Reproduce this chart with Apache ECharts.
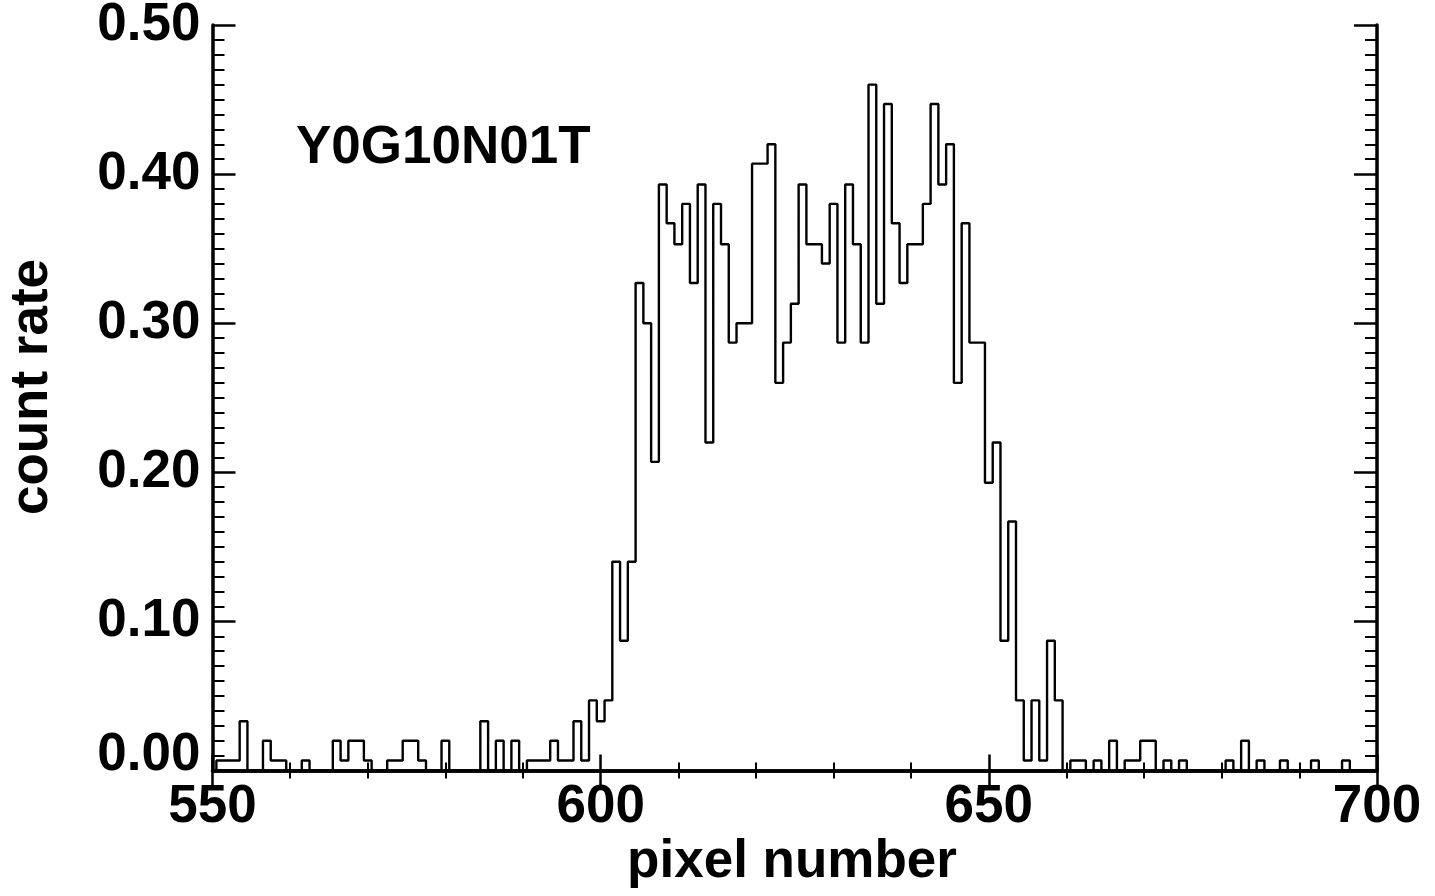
<!DOCTYPE html>
<html>
<head>
<meta charset="utf-8">
<title>Y0G10N01T count rate</title>
<script src="https://cdn.jsdelivr.net/npm/echarts@6/dist/echarts.min.js"></script>
<style>
  html, body { margin: 0; padding: 0; background: #ffffff; }
  #chart { width: 1435px; height: 896px; }
</style>
</head>
<body>
<div id="chart"></div>
<script>
// Count rate per detector pixel, one value per pixel starting at firstPixel.
const firstPixel = 550;

// pixels 550 - 601 (background and rising edge)
const rateLeftTail = [
  0, 0.0067, 0.0067, 0.0067, 0.033, 0, 0, 0.02, 0.0067, 0.0067,
  0, 0, 0.0067, 0, 0, 0, 0.02, 0.0067, 0.02, 0.02,
  0.0067, 0, 0, 0.0067, 0.0067, 0.02, 0.02, 0.0067, 0, 0,
  0.02, 0, 0, 0, 0, 0.033, 0, 0.02, 0, 0.02,
  0, 0.0067, 0.0067, 0.0067, 0.02, 0.0067, 0.0067, 0.033, 0.0067, 0.047,
  0.033, 0.047
];

// pixels 602 - 659 (illuminated region)
const rateCore = [
  0.14, 0.087, 0.14, 0.327, 0.30, 0.207, 0.393, 0.367, 0.353, 0.38,
  0.327, 0.393, 0.22, 0.38, 0.353, 0.287, 0.30, 0.30, 0.407, 0.407,
  0.42, 0.26, 0.287, 0.313, 0.393, 0.353, 0.353, 0.34, 0.38, 0.287,
  0.393, 0.353, 0.287, 0.46, 0.313, 0.447, 0.367, 0.327, 0.353, 0.353,
  0.38, 0.447, 0.393, 0.42, 0.26, 0.367, 0.287, 0.287, 0.193, 0.22,
  0.087, 0.167, 0.047, 0.0067, 0.047, 0.0067, 0.087, 0.047
];

// pixels 660 - 700 (background)
const rateRightTail = [
  0, 0.0067, 0.0067, 0, 0.0067, 0, 0.02, 0, 0.0067, 0.0067,
  0.02, 0.02, 0, 0.0067, 0, 0.0067, 0, 0, 0, 0,
  0, 0.0067, 0, 0.02, 0, 0.0067, 0, 0, 0.0067, 0,
  0, 0, 0.0067, 0, 0, 0, 0.0067, 0, 0, 0,
  0
];

const xTicks = { min: 550, max: 700, interval: 50 };
const yTicks = { min: 0, max: 0.5, interval: 0.1 };
const plotLabel = 'Y0G10N01T';
const xTitle = 'pixel number';
const yTitle = 'count rate';

const countRate = rateLeftTail.concat(rateCore, rateRightTail);
const histogram = countRate.map((v, i) => [firstPixel + i, v]);

const FONT = '"Liberation Sans", Arial, Helvetica, sans-serif';
const big = { fontFamily: FONT, fontWeight: 'bold', fontSize: 53, color: '#000' };

const axisLine = { show: true, lineStyle: { color: '#000', width: 3.5 } };

function xAxisCfg(pos, labels) {
  return {
    type: 'value', position: pos,
    min: xTicks.min, max: xTicks.max, interval: xTicks.interval,
    axisLine: axisLine,
    axisTick: { show: true, inside: true, length: 16, lineStyle: { color: '#000', width: 2.5 } },
    minorTick: { show: true, splitNumber: 5, length: 8, lineStyle: { color: '#000', width: 2 } },
    splitLine: { show: false },
    axisLabel: labels ? Object.assign({ show: true, margin: 10 }, big) : { show: false }
  };
}

function yAxisCfg(pos, labels) {
  return {
    type: 'value', position: pos,
    min: yTicks.min, max: yTicks.max, interval: yTicks.interval,
    axisLine: axisLine,
    axisTick: { show: true, inside: true, length: 23, lineStyle: { color: '#000', width: 2.5 } },
    minorTick: { show: true, splitNumber: 10, length: 12, lineStyle: { color: '#000', width: 2 } },
    splitLine: { show: false },
    axisLabel: labels ? Object.assign({
      show: true, margin: 12,
      formatter: v => (v === 0 ? '{z|0.00}' : v.toFixed(2)),
      rich: { z: Object.assign({ padding: [0, 0, 30, 0] }, big) }
    }, big) : { show: false }
  };
}

const chart = echarts.init(document.getElementById('chart'), null, { renderer: 'canvas' });
chart.setOption({
  animation: false,
  backgroundColor: '#ffffff',
  grid: { left: 212.5, top: 25, width: 1164.5, height: 745.5, containLabel: false, outerBoundsMode: 'none' },
  xAxis: [xAxisCfg('bottom', true), xAxisCfg('top', false)],
  yAxis: [yAxisCfg('left', true), yAxisCfg('right', false)],
  graphic: [
    { type: 'text', left: 296, top: 122, style: { text: plotLabel, fill: '#000', font: 'bold 53px ' + FONT } },
    { type: 'text', x: 792, y: 862, style: { text: xTitle, fill: '#000', font: 'bold 53px ' + FONT,
        align: 'center', verticalAlign: 'middle' } },
    { type: 'text', x: 32, y: 387, rotation: Math.PI / 2, style: { text: yTitle, fill: '#000',
        font: 'bold 53px ' + FONT, align: 'center', verticalAlign: 'middle' } }
  ],
  series: [{
    type: 'line',
    data: histogram,
    step: 'middle',
    symbol: 'none',
    clip: true,
    lineStyle: { color: '#000', width: 2.4 }
  }]
});
</script>
</body>
</html>
